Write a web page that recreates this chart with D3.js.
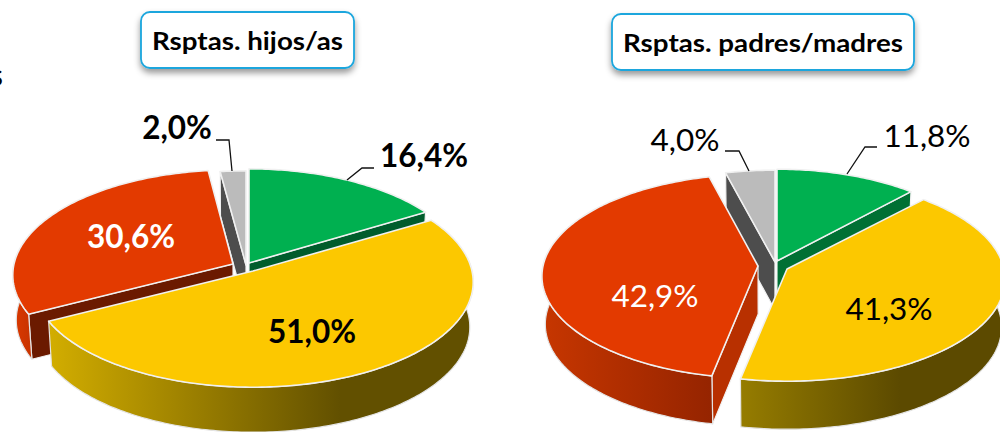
<!DOCTYPE html>
<html><head><meta charset="utf-8">
<script src="https://cdn.jsdelivr.net/npm/d3@7/dist/d3.min.js"></script>
<style>html,body{margin:0;padding:0;background:#fff;overflow:hidden}svg{display:block}</style>
</head><body><svg id="c" width="1000" height="432"></svg>
<script>
const categories = ["Verde", "Amarillo", "Rojo", "Gris"];
const valuesHijos = [16.4, 51.0, 30.6, 2.0];
const valuesPadres = [11.8, 41.3, 42.9, 4.0];
const labelsHijos = ["16,4%", "51,0%", "30,6%", "2,0%"];
const labelsPadres = ["11,8%", "41,3%", "42,9%", "4,0%"];
const titles = ["Rsptas. hijos/as", "Rsptas. padres/madres"];

const topColors = ["#00b050", "#fcc800", "#e33a00", "#bbbbbb"];
const drawOrder = [3, 0, 2, 1];

const charts = [{
  values: valuesHijos, labels: labelsHijos, title: titles[0], weight: 700,
  box: [141, 12, 213, 56], titleX: 247.5, titleY: 50, titleW: 191,
  proj: {S: 104, p: 0.105, cx: 245, depth: 45, shrink: 0.985},
  apex: [[249, 263], [253, 271], [233, 264], [246, 265]],
  rx: [217, 219, 219, 228],
  wall: ["#005c2c", "#b89a00", "#6b1a00", "#4d4d4d"],
  side: [["#00803a", "#00803a"], ["#d2ad00", "#625000"], ["#d83800", "#a82a00"], ["#4d4d4d", "#4d4d4d"]],
  sideX: [[100, 400], [50, 340], [16, 60], [200, 250]],
  labelPos: [[424, 167], [312, 343], [131, 248], [177, 139]],
  labelFill: ["#000", "#000", "#fff", "#000"],
  leaders: [{i: 0, pts: [[374, 168], [362, 168], [347, 180]]}, {i: 3, pts: [[216, 140], [229, 140], [232, 171]]}]
}, {
  values: valuesPadres, labels: labelsPadres, title: titles[1], weight: 400,
  box: [612, 14, 302, 56], titleX: 763, titleY: 52, titleW: 280,
  proj: {S: 101, p: 0.1, cx: 770, depth: 48, shrink: 0.985},
  apex: [[777, 261], [787, 269], [758, 266], [775, 262]],
  rx: [213, 217, 215, 218],
  wall: ["#007034", "#8f7800", "#b83000", "#4d4d4d"],
  side: [["#00803a", "#00803a"], ["#957c00", "#5c4a00"], ["#c63600", "#952400"], ["#4d4d4d", "#4d4d4d"]],
  sideX: [[780, 920], [742, 900], [545, 712], [720, 780]],
  labelPos: [[927, 147], [889, 320], [655, 307], [685, 151]],
  labelFill: ["#000", "#000", "#fff", "#000"],
  leaders: [{i: 0, pts: [[877, 147], [865, 147], [847, 174]]}, {i: 3, pts: [[725, 151], [739, 151], [749, 171]]}]
}];

const svg = d3.select("#c");
const defs = svg.append("defs");
defs.append("filter").attr("id", "sh").attr("x", "-10%").attr("y", "-20%").attr("width", "120%").attr("height", "150%")
  .append("feDropShadow").attr("dx", 0).attr("dy", 4).attr("stdDeviation", 3).attr("flood-color", "#000").attr("flood-opacity", 0.4);

const pie = d3.pie().sort(null).value(d => d);
const line = d3.line();
const frontFrom = 83 * Math.PI / 180, frontTo = 277 * Math.PI / 180;

charts.forEach((ch, ci) => {
  const g = svg.append("g");
  const arcs = pie(ch.values);
  const {S, p, cx, depth, shrink} = ch.proj;
  const pt = (i, a) => {
    const X = Math.sin(a), Y = -Math.cos(a), w = 1 - p * Y;
    return [ch.apex[i][0] + ch.rx[i] * X / w, ch.apex[i][1] + S * Y / w];
  };
  const down = q => [cx + (q[0] - cx) * shrink, q[1] + depth];
  const sweep = (i, a0, a1) => {
    const n = Math.max(8, Math.ceil((a1 - a0) * 60));
    return d3.range(n + 1).map(k => pt(i, a0 + (a1 - a0) * k / n));
  };

  drawOrder.forEach(i => {
    const a = arcs[i];
    const rim = sweep(i, a.startAngle, a.endAngle);
    const apex = ch.apex[i];

    const id = `side${ci}${i}`;
    const gr = defs.append("linearGradient").attr("id", id).attr("gradientUnits", "userSpaceOnUse")
      .attr("x1", ch.sideX[i][0]).attr("x2", ch.sideX[i][1]).attr("y1", 0).attr("y2", 0);
    gr.append("stop").attr("offset", 0).attr("stop-color", ch.side[i][0]);
    gr.append("stop").attr("offset", 1).attr("stop-color", ch.side[i][1]);

    // cut walls: only the ones facing the viewer
    const startEdge = rim[0], endEdge = rim[rim.length - 1];
    if (startEdge[0] - apex[0] < -1) {
      g.append("path").attr("d", line([apex, startEdge, down(startEdge), down(apex)]) + "Z")
        .attr("fill", ch.wall[i]).attr("stroke", "#f2f2f2").attr("stroke-width", 1.2).attr("stroke-linejoin", "round");
    }
    if (endEdge[0] - apex[0] > 1) {
      g.append("path").attr("d", line([apex, endEdge, down(endEdge), down(apex)]) + "Z")
        .attr("fill", ch.wall[i]).attr("stroke", "#f2f2f2").attr("stroke-width", 1.2).attr("stroke-linejoin", "round");
    }
    // outer wall: only the front part of the rim
    const a0 = Math.max(a.startAngle, frontFrom), a1 = Math.min(a.endAngle, frontTo);
    if (a1 > a0) {
      const front = sweep(i, a0, a1);
      g.append("path").attr("d", line(front.concat(front.map(down).reverse())) + "Z")
        .attr("fill", `url(#${id})`).attr("stroke", "#e4e4e4").attr("stroke-width", 1.2).attr("stroke-linejoin", "round");
    }
    // top face
    g.append("path").attr("d", line([apex].concat(rim)) + "Z")
      .attr("fill", topColors[i]).attr("stroke", "#f0f0f0").attr("stroke-width", 1.6).attr("stroke-linejoin", "round");
  });

  ch.leaders.forEach(l => {
    g.append("path").attr("d", line(l.pts)).attr("fill", "none").attr("stroke", "#111").attr("stroke-width", 1.3);
  });

  ch.labels.forEach((t, i) => {
    g.append("text").attr("x", ch.labelPos[i][0]).attr("y", ch.labelPos[i][1])
      .attr("text-anchor", "middle").attr("font-family", "Lato, 'Open Sans', sans-serif")
      .attr("font-weight", ch.weight).attr("font-size", 31.5).attr("fill", ch.labelFill[i]).text(t);
  });

  const b = ch.box;
  g.append("rect").attr("x", b[0]).attr("y", b[1]).attr("width", b[2]).attr("height", b[3]).attr("rx", 9)
    .attr("fill", "#fff").attr("stroke", "#1ba6dd").attr("stroke-width", 1.8).attr("filter", "url(#sh)");
  g.append("text").attr("x", ch.titleX).attr("y", ch.titleY).attr("text-anchor", "middle")
    .attr("font-family", "Lato, 'Open Sans', sans-serif").attr("font-weight", 700).attr("font-size", 25.5)
    .attr("textLength", ch.titleW).attr("lengthAdjust", "spacingAndGlyphs").attr("fill", "#000").text(ch.title);
});

svg.append("text").attr("x", 3).attr("y", 86).attr("text-anchor", "end")
  .attr("font-family", "Lato, sans-serif").attr("font-size", 30).attr("fill", "#000").text("s");
</script></body></html>
